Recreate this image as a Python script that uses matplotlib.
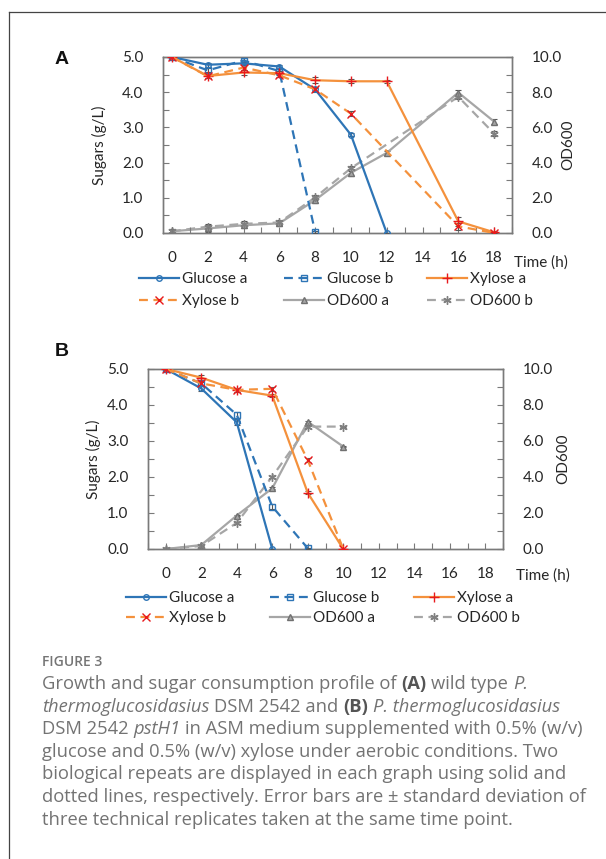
import numpy as np
import matplotlib
matplotlib.use("Agg")
import matplotlib.pyplot as plt
from matplotlib.lines import Line2D
from matplotlib.ticker import MultipleLocator

# ---- data, panel A (wild type) ----
A_glc_a_t = [0, 2, 4, 6, 8, 10, 12]
A_glc_a = [5.0, 4.78, 4.82, 4.73, 4.08, 2.79, 0.0]
A_glc_b_t = [0, 2, 4, 6, 8]
A_glc_b = [5.0, 4.62, 4.9, 4.6, 0.03]
A_xyl_a_t = [0, 2, 4, 6, 8, 10, 12, 16, 18]
A_xyl_a = [5.0, 4.46, 4.56, 4.54, 4.34, 4.31, 4.31, 0.33, 0.02]
A_xyl_b_t = [0, 2, 4, 6, 8, 10, 16, 18]
A_xyl_b = [5.0, 4.45, 4.7, 4.48, 4.08, 3.39, 0.19, 0.0]
A_od_a_t = [0, 2, 4, 6, 8, 10, 12, 16, 18]
A_od_a = [0.1, 0.26, 0.44, 0.55, 1.87, 3.42, 4.55, 7.98, 6.33]
A_od_b_t = [0, 2, 4, 6, 8, 10, 16, 18]
A_od_b = [0.1, 0.36, 0.52, 0.6, 2.02, 3.68, 7.74, 5.65]

# ---- data, panel B (pstH1) ----
B_glc_a_t = [0, 2, 4, 6]
B_glc_a = [5.0, 4.46, 3.52, 0.0]
B_glc_b_t = [0, 2, 4, 6, 8]
B_glc_b = [5.0, 4.6, 3.73, 1.18, 0.02]
B_xyl_a_t = [0, 2, 4, 6, 8, 10]
B_xyl_a = [5.0, 4.76, 4.42, 4.26, 1.56, 0.0]
B_xyl_b_t = [0, 2, 4, 6, 8, 10]
B_xyl_b = [5.0, 4.6, 4.42, 4.45, 2.47, 0.0]
B_od_a_t = [0, 2, 4, 6, 8, 10]
B_od_a = [0.0, 0.22, 1.86, 3.37, 7.07, 5.69]
B_od_b_t = [0, 2, 4, 6, 8, 10]
B_od_b = [0.0, 0.17, 1.45, 4.02, 6.8, 6.8]

# standard deviations (small)
A_glc_a_e = [0.03, 0.05, 0.05, 0.04, 0.05, 0.04, 0.0]
A_glc_b_e = [0.03, 0.06, 0.06, 0.05, 0.03]
A_xyl_a_e = [0.03, 0.07, 0.08, 0.05, 0.09, 0.06, 0.05, 0.12, 0.03]
A_xyl_b_e = [0.03, 0.06, 0.07, 0.06, 0.07, 0.07, 0.1, 0.03]
A_od_a_e = [0.1, 0.2, 0.15, 0.15, 0.15, 0.2, 0.1, 0.15, 0.12]
A_od_b_e = [0.1, 0.15, 0.15, 0.15, 0.15, 0.15, 0.15, 0.15]
B_glc_a_e = [0.03, 0.08, 0.08, 0.0]
B_glc_b_e = [0.03, 0.06, 0.08, 0.08, 0.02]
B_xyl_a_e = [0.03, 0.06, 0.05, 0.04, 0.04, 0.0]
B_xyl_b_e = [0.03, 0.05, 0.06, 0.05, 0.05, 0.0]
B_od_a_e = [0.02, 0.05, 0.05, 0.05, 0.05, 0.04]
B_od_b_e = [0.02, 0.05, 0.05, 0.05, 0.05, 0.04]

LABELS = ["Glucose a", "Glucose b", "Xylose a", "Xylose b", "OD600 a", "OD600 b"]

BLUE = "#2e75b6"
ORANGE = "#f4913c"
GREY = "#a6a6a6"
RED = "#e8191c"
EBAR = "#555555"
AXC = "#7a7a7a"
TXT = "#262626"
CHART_FONT = ["Lato", "DejaVu Sans"]
DASH = (4, 2.5)

W, H = 606, 859
fig = plt.figure(figsize=(W / 100, H / 100), dpi=100)


def fx(px):
    return px / W


def fy(py):
    return 1 - py / H


def make_panel(box, xlim, series, letter, letter_xy, leg_cols, leg_rows, time_xy, ylab_x, od_x):
    x0, y0, x1, y1 = box
    ax = fig.add_axes([fx(x0), fy(y1), fx(x1 - x0), (y1 - y0) / H])
    ax2 = ax.twinx()
    ax.set_zorder(ax2.get_zorder() + 1)
    ax.patch.set_visible(False)
    handles = []
    for (t, v, e, right, color, ls, mk, mfc, mec, ms) in series:
        a = ax2 if right else ax
        a.errorbar(t, v, yerr=e, fmt="none", ecolor=EBAR, elinewidth=0.8,
                   capsize=2.5, capthick=0.8, zorder=3)
        ln, = a.plot(t, v, color=color, lw=1.6, marker=mk, ms=ms, mfc=mfc,
                     mec=mec, mew=1.0, zorder=4)
        if ls == "--":
            ln.set_dashes(DASH)
        handles.append(ln)
    ax.set_xlim(*xlim)
    ax.set_ylim(0, 5)
    ax2.set_ylim(0, 10)
    ax.xaxis.set_major_locator(MultipleLocator(2))
    ax.xaxis.set_minor_locator(MultipleLocator(1))
    ax.xaxis.set_major_formatter(lambda v, p: f"{v:.0f}" if 0 <= v <= 18 else "")
    ax.yaxis.set_major_locator(MultipleLocator(1))
    ax.yaxis.set_minor_locator(MultipleLocator(0.5))
    ax.yaxis.set_major_formatter(lambda v, p: f"{v:.1f}")
    ax2.yaxis.set_major_locator(MultipleLocator(2))
    ax2.yaxis.set_minor_locator(MultipleLocator(1))
    ax2.yaxis.set_major_formatter(lambda v, p: f"{v:.1f}")
    for a in (ax, ax2):
        for s in a.spines.values():
            s.set_color(AXC)
            s.set_linewidth(1.0)
        a.tick_params(which="both", direction="in", color=AXC, width=0.8, length=4,
                      labelsize=11, labelcolor=TXT)
        for lab in a.get_xticklabels() + a.get_yticklabels():
            lab.set_family(CHART_FONT)
    ax.tick_params(axis="x", pad=13)
    ax.tick_params(axis="y", pad=14)
    ax2.tick_params(axis="y", pad=14)
    ax2.tick_params(axis="x", which="both", bottom=False, top=False)

    fig.text(fx(ylab_x), fy((y0 + y1) / 2), "Sugars (g/L)", rotation=90, ha="center",
             va="center", fontsize=11, color=TXT, family=CHART_FONT)
    fig.text(fx(od_x), fy((y0 + y1) / 2), "OD600", rotation=90, ha="center",
             va="center", fontsize=11, color=TXT, family=CHART_FONT)
    fig.text(fx(time_xy[0]), fy(time_xy[1]), "Time (h)", ha="left", va="center",
             fontsize=11, color=TXT, family=CHART_FONT)
    fig.text(fx(letter_xy[0]), fy(letter_xy[1]), letter, ha="center", va="center",
             fontsize=14, fontweight="bold", color="#111111", family="Liberation Sans")

    # legend: one entry per slot, 3 columns x 2 rows, row-wise order
    for i, (h, lab) in enumerate(zip(handles, LABELS)):
        cx = leg_cols[i % 3]
        cy = leg_rows[i // 3]
        leg = fig.legend([h], [lab], loc="center left",
                         bbox_to_anchor=(fx(cx), fy(cy)), frameon=False,
                         handlelength=2.6, handletextpad=0.2, borderpad=0,
                         borderaxespad=0, prop={"family": CHART_FONT, "size": 11})
        for t in leg.get_texts():
            t.set_color(TXT)
    return ax, ax2


def series_for(d):
    return [
        (d[0][0], d[0][1], d[0][2], False, BLUE, "-", "o", "none", BLUE, 4),
        (d[1][0], d[1][1], d[1][2], False, BLUE, "--", "s", "none", BLUE, 4),
        (d[2][0], d[2][1], d[2][2], False, ORANGE, "-", "+", RED, RED, 7),
        (d[3][0], d[3][1], d[3][2], False, ORANGE, "--", "x", RED, RED, 6),
        (d[4][0], d[4][1], d[4][2], True, GREY, "-", "^", GREY, "#707070", 4),
        (d[5][0], d[5][1], d[5][2], True, GREY, "--", (6, 2, 0), GREY, "#808080", 6),
    ]


series_A = series_for([
    (A_glc_a_t, A_glc_a, A_glc_a_e), (A_glc_b_t, A_glc_b, A_glc_b_e),
    (A_xyl_a_t, A_xyl_a, A_xyl_a_e), (A_xyl_b_t, A_xyl_b, A_xyl_b_e),
    (A_od_a_t, A_od_a, A_od_a_e), (A_od_b_t, A_od_b, A_od_b_e)])
series_B = series_for([
    (B_glc_a_t, B_glc_a, B_glc_a_e), (B_glc_b_t, B_glc_b, B_glc_b_e),
    (B_xyl_a_t, B_xyl_a, B_xyl_a_e), (B_xyl_b_t, B_xyl_b, B_xyl_b_e),
    (B_od_a_t, B_od_a, B_od_a_e), (B_od_b_t, B_od_b, B_od_b_e)])

make_panel((163, 57, 512, 233), (-0.5, 19), series_A, "A", (62, 60),
           (139, 284, 427), (279, 301), (514, 263), 99, 568)
make_panel((148, 369, 503, 549), (-1, 19), series_B, "B", (62, 352),
           (126, 270, 414), (598, 618), (516, 576), 93, 563)

# ---- frame of the figure page ----
fig.add_artist(Line2D([fx(9), fx(9)], [fy(12), 0], color="#444444", lw=0.9))
fig.add_artist(Line2D([fx(9), 1], [fy(12), fy(12)], color="#444444", lw=0.9))

# ---- caption ----
CAP_FONT = "Open Sans"
CAP_COL = "#737373"
fig.text(fx(42), fy(662), "FIGURE 3", fontsize=10, color="#757575", family=CAP_FONT,
         fontweight="semibold", va="center")

caption = [
    [("Growth and sugar consumption profile of", "n", True), ("(A)", "b", True),
     ("wild type", "n", True), ("P.", "i", False)],
    [("thermoglucosidasius", "i", True), ("DSM 2542 and", "n", True), ("(B)", "b", True),
     ("P. thermoglucosidasius", "i", False)],
    [("DSM 2542", "n", True), ("pstH1", "i", True),
     ("in ASM medium supplemented with 0.5% (w/v)", "n", False)],
    [("glucose and 0.5% (w/v) xylose under aerobic conditions. Two", "n", False)],
    [("biological repeats are displayed in each graph using solid and", "n", False)],
    [("dotted lines, respectively. Error bars are \u00b1 standard deviation of", "n", False)],
    [("three technical replicates taken at the same time point.", "n", False)],
]
renderer = fig.canvas.get_renderer()
CAP_SIZE = 13.2


def tw(txt):
    t = fig.text(0, 0, txt, fontsize=CAP_SIZE, family=CAP_FONT)
    w = t.get_window_extent(renderer).width
    t.remove()
    return w


space_w = tw("a a") - tw("aa")
for i, line in enumerate(caption):
    x = 42.0
    y = 684 + i * 22.6
    for txt, st, sp in line:
        kw = dict(fontsize=CAP_SIZE, family=CAP_FONT, color=CAP_COL, va="center")
        if st == "b":
            kw["fontweight"] = "bold"
            kw["color"] = "#555555"
        if st == "i":
            kw["fontstyle"] = "italic"
        t = fig.text(fx(x), fy(y), txt, **kw)
        x += t.get_window_extent(renderer).width
        if sp:
            x += space_w

fig.savefig("out.png", dpi=100)
